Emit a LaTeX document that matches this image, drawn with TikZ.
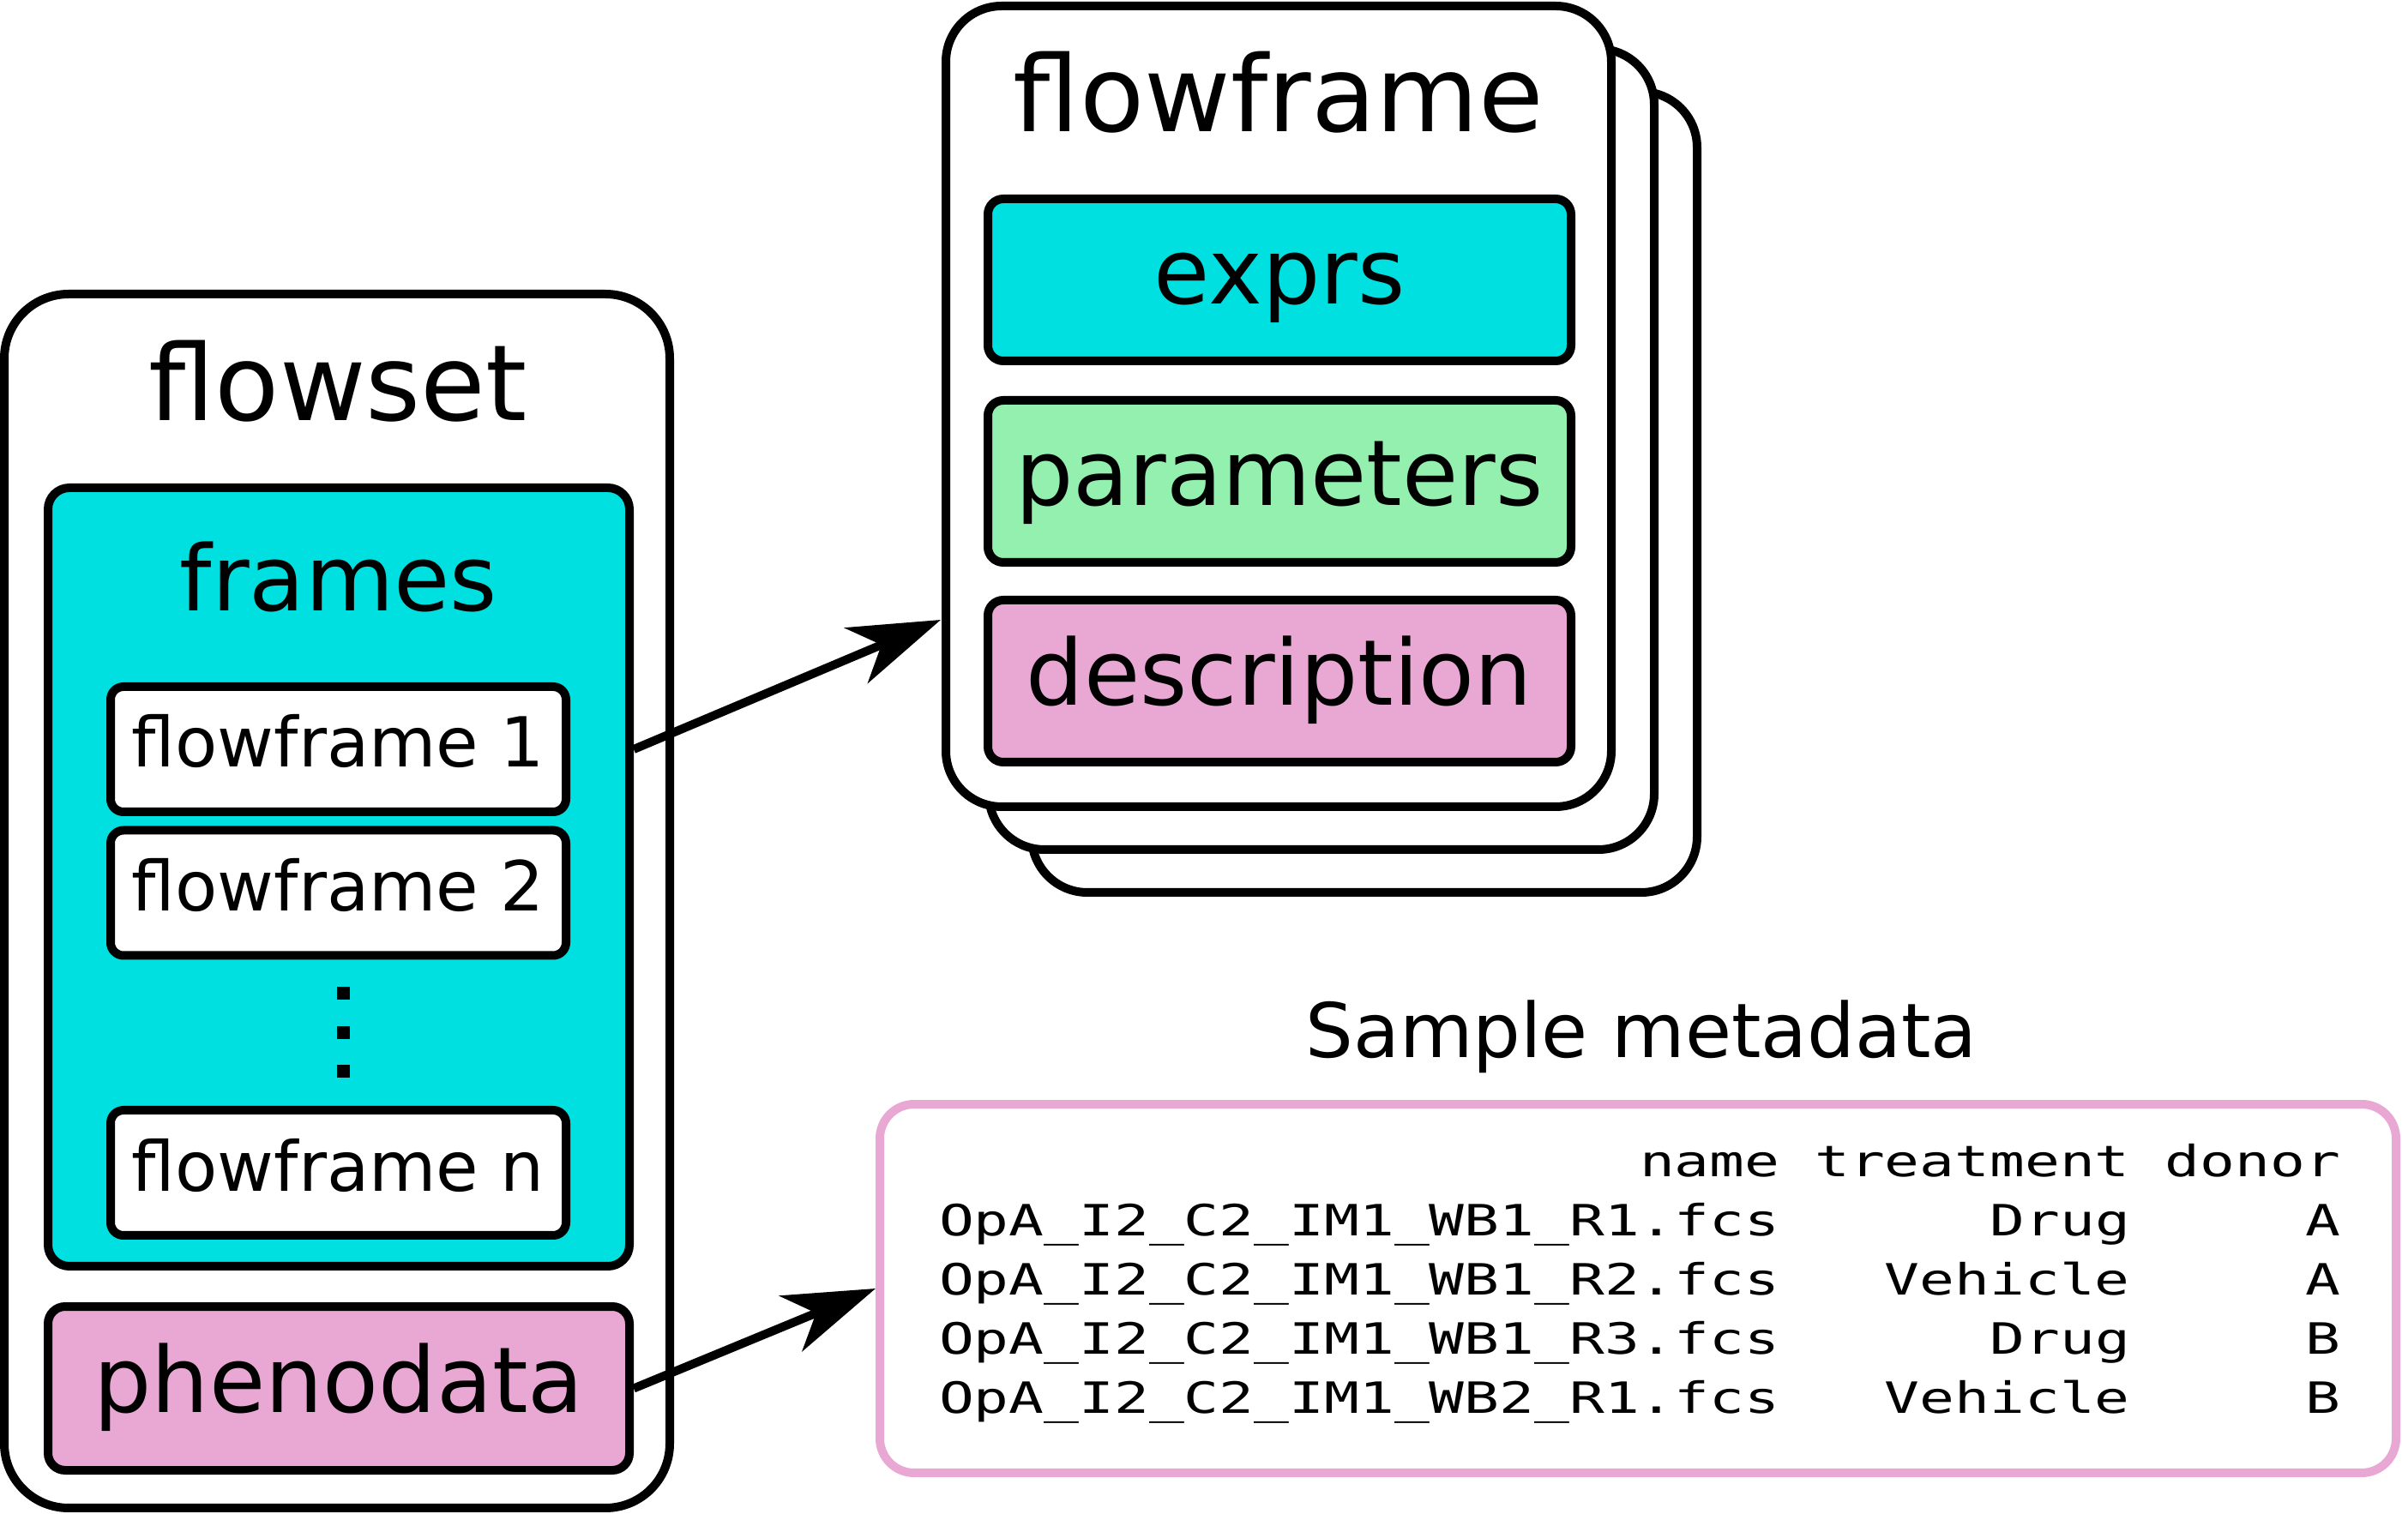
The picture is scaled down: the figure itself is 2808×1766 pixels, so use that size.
\documentclass[tikz,border=0pt]{standalone}
\usepackage{fontspec}
\setmainfont{DejaVu Sans}
\newfontfamily\tabfont[FakeStretch=1.35]{DejaVu Sans Mono}
\usetikzlibrary{arrows.meta}
\definecolor{framecyan}{RGB}{0,224,224}
\definecolor{paramgreen}{RGB}{147,240,174}
\definecolor{descpink}{RGB}{233,168,212}
\newcommand{\bigtext}{\fontsize{35pt}{42pt}\selectfont}
\newcommand{\midtext}{\fontsize{30.2pt}{36pt}\selectfont}
\newcommand{\smalltext}{\fontsize{22.9pt}{27pt}\selectfont}
\newcommand{\labeltext}{\fontsize{25pt}{30pt}\selectfont}
\newcommand{\tabtext}{\tabfont\fontsize{14.3pt}{19.63pt}\selectfont}

\begin{document}
\begin{tikzpicture}[x=0.1mm, y=-0.1mm,
  box/.style={draw, line width=1mm, inner sep=0pt},
  field/.style={box, rounded corners=1.8mm, minimum width=68mm, minimum height=18.9mm, font=\midtext, text height=8.1mm, text depth=2.5mm},
  frameitem/.style={box, fill=white, rounded corners=1.5mm, minimum width=53.1mm, minimum height=14.6mm, font=\smalltext, text height=6.1mm, text depth=1.9mm},
  card/.style={box, fill=white, rounded corners=6.5mm, minimum width=77.6mm, minimum height=93.4mm},
  arr/.style={line width=1mm, -{Stealth[length=10.7mm, width=7mm, inset=3.2mm]}}]
\useasboundingbox (0,0) rectangle (2808,1766);

\node[box, rounded corners=7.5mm, minimum width=77.6mm, minimum height=141.6mm] (flowset) at (393,1051) {};
\node[font=\bigtext, anchor=base] (flowsettitle) at (394,491) {flowset};
\node[box, fill=framecyan, rounded corners=2.5mm, minimum width=67.8mm, minimum height=90.8mm] (frames) at (395,1023) {};
\node[font=\midtext, anchor=base] (framestitle) at (395,713) {frames};
\node[frameitem] (ff1) at (394.5,874) {flowframe 1};
\node[frameitem] (ff2) at (394.5,1041.5) {flowframe 2};
\node[frameitem] (ffn) at (394.5,1368) {flowframe n};
\foreach \y [count=\i] in {1159,1205,1250}
  \node[fill, minimum size=1.5mm, inner sep=0pt] (dot\i) at (400,\y) {};
\node[field, fill=descpink, minimum width=67.8mm, minimum height=19.1mm, rounded corners=2mm] (pheno) at (395,1619.5) {phenodata};

\foreach \k in {2,1,0}
  \node[card] (card\k) at ({1491+50*\k},{474+50*\k}) {};
\node[font=\bigtext, anchor=base] (cardtitle) at (1491,154) {flowframe};
\node[field, fill=framecyan] (exprs) at (1492,326.5) {exprs};
\node[field, fill=paramgreen] (params) at (1492,561.5) {parameters};
\node[field, fill=descpink] (desc) at (1492,794.5) {description};

\node[font=\labeltext, anchor=base] (metatitle) at (1914,1234) {Sample metadata};
\node[draw=descpink, line width=1mm, rounded corners=4mm, minimum width=176.8mm, minimum height=43mm, inner sep=0pt] (meta) at (1910,1503) {};
\node[font=\tabtext, inner sep=0pt] (tab) at (1912,1497) {\begin{tabular}{@{}r@{\ }r@{\ }r@{}}
name & treatment & donor\\
OpA\_I2\_C2\_IM1\_WB1\_R1.fcs & Drug & A\\
OpA\_I2\_C2\_IM1\_WB1\_R2.fcs & Vehicle & A\\
OpA\_I2\_C2\_IM1\_WB1\_R3.fcs & Drug & B\\
OpA\_I2\_C2\_IM1\_WB2\_R1.fcs & Vehicle & B
\end{tabular}};

\coordinate (ffin) at (1097,723);
\draw[arr] (frames.east |- ff1.east) -- (ffin);
\draw[arr] (pheno.east) -- (meta.west);
\end{tikzpicture}
\end{document}
